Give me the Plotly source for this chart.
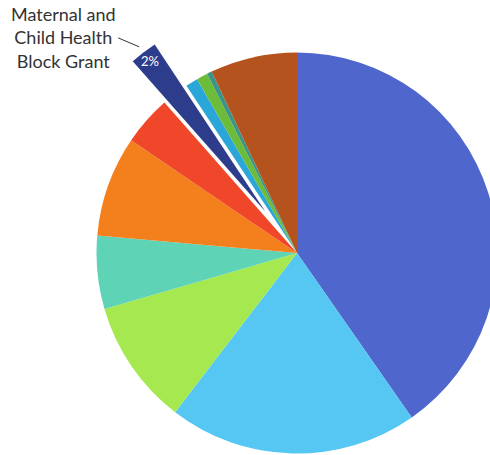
import math
import plotly.graph_objects as go

# ---- data ----
categories = ["Program A", "Program B", "Program C", "Program D", "Program E",
              "Program F", "Maternal and Child Health Block Grant", "Program H",
              "Program I", "Program J", "Program K"]
shares = [40.3, 20.1, 10.1, 5.9, 8.1, 4.0, 2.2, 1.0, 0.9, 0.4, 7.0]
slice_text = ["", "", "", "", "", "", "2%", "", "", "", ""]
highlight = "Maternal and Child Health Block Grant"

colors = ["#4f66cc", "#56c7f2", "#a6e850", "#5fd3b6", "#f47f1d", "#f0472a",
          "#2e3c8c", "#2ba6d8", "#6cbc3a", "#3c9488", "#b5531f"]

# ---- layout geometry (pixels) ----
W, H = 560, 520
cx, cy = 297, 253          # pie centre (from top-left)
r = 200.5
pull_amt = 0.26
half = r * (1 + pull_amt)

pulls = [pull_amt if c == highlight else 0 for c in categories]

dom_x = [(cx - half) / W, (cx + half) / W]
dom_y = [(H - cy - half) / H, (H - cy + half) / H]

fig = go.Figure(go.Pie(
    labels=categories,
    values=shares,
    sort=False,
    direction="clockwise",
    rotation=0,
    pull=pulls,
    marker=dict(colors=colors, line=dict(width=0)),
    textinfo="none",
    hoverinfo="label+percent",
    domain=dict(x=dom_x, y=dom_y),
    showlegend=False,
))

# position of the highlighted slice label, derived from the data
idx = categories.index(highlight)
total = sum(shares)
start = sum(shares[:idx]) / total * 360
mid = start + shares[idx] / total * 360 / 2
ang = math.radians(mid)
off = r * pull_amt
rad_lbl = off + r - 11
lx = cx + rad_lbl * math.sin(ang)
ly = cy - rad_lbl * math.cos(ang)

fig.add_annotation(x=lx / W, y=1 - ly / H, xref="paper", yref="paper",
                   text=slice_text[idx], showarrow=False,
                   xanchor="center", yanchor="middle",
                   font=dict(family="Lato", size=13, color="white"))

# outside label with leader line
tip_r = off + r + 7
tx = cx + tip_r * math.sin(ang)
ty = cy - tip_r * math.cos(ang)
fig.add_annotation(x=tx / W, y=1 - ty / H, xref="paper", yref="paper",
                   text="Maternal and<br>Child Health<br>Block Grant",
                   showarrow=True, arrowhead=0, arrowwidth=1, arrowcolor="#333333",
                   ax=-21, ay=-9, xanchor="right", yanchor="middle", align="center",
                   font=dict(family="Lato", size=18, color="#333333"))

fig.update_layout(width=W, height=H, autosize=False,
                  margin=dict(l=0, r=0, t=0, b=0),
                  paper_bgcolor="white", plot_bgcolor="white")

fig.write_html("out.html",
               post_script="document.body.style.margin='0';"
                           "document.documentElement.style.overflow='hidden';"
                           "document.body.style.overflow='hidden';")
